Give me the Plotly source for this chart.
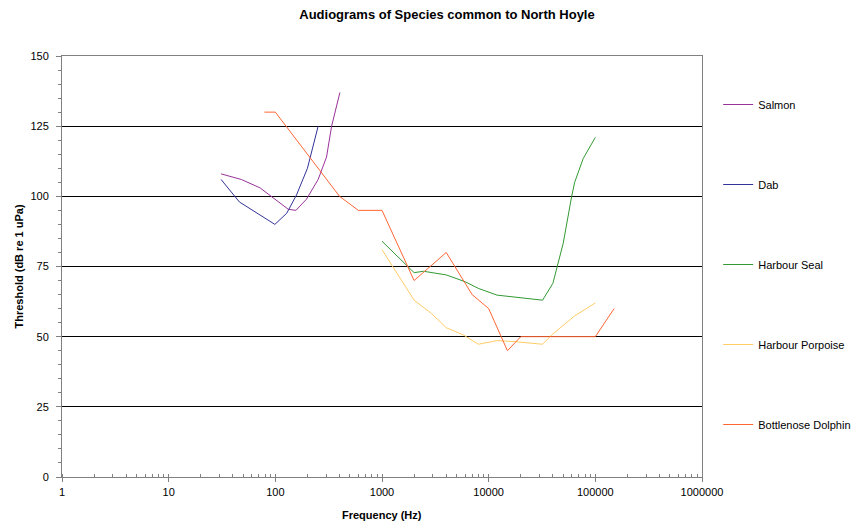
import plotly.graph_objects as go

# ---- data (Hz, dB re 1 uPa) ----
salmon_hz = [31, 48, 72, 92, 132, 156, 196, 252, 302, 337, 403]
salmon_db = [108, 106, 103, 100, 95.4, 95, 99, 106, 114, 125, 137]

dab_hz = [31, 46, 99, 128, 158, 200, 252]
dab_db = [106, 98, 90, 94, 100.5, 110, 125]

seal_hz = [1000, 2000, 2450, 4000, 6000, 8000, 12000, 18000, 32000, 40000,
           50000, 60000, 64000, 77000, 100000]
seal_db = [84, 72.8, 73.3, 72, 69.6, 67.2, 64.8, 64, 63, 69,
           83.3, 100, 105, 113.5, 121]

porpoise_hz = [1000, 2000, 2900, 4000, 5800, 8000, 12000, 18000, 32000, 39000,
               64000, 100000]
porpoise_db = [81, 63, 58.3, 53.2, 50.6, 47.3, 48.6, 48.2, 47.3, 50.6,
               57.4, 62]

dolphin_hz = [79, 100, 400, 600, 1000, 2000, 4000, 7000, 10000, 15000, 20000,
              100000, 150000]
dolphin_db = [130, 130, 100, 95, 95, 70, 80, 65, 60, 45, 50, 50, 60]

series = [
    ("Salmon", salmon_hz, salmon_db, "#993399"),
    ("Dab", dab_hz, dab_db, "#333399"),
    ("Harbour Seal", seal_hz, seal_db, "#339933"),
    ("Harbour Porpoise", porpoise_hz, porpoise_db, "#FFCC66"),
    ("Bottlenose Dolphin", dolphin_hz, dolphin_db, "#FF6633"),
]

FONT = "Arial, Liberation Sans, sans-serif"

fig = go.Figure()
for name, xs, ys, col in series:
    fig.add_trace(go.Scatter(
        x=xs, y=ys, mode="lines", name=name, legendgroup=name,
        line=dict(color=col, width=1),
    ))

# the page body adds an 8px margin, so the figure is 8px smaller
W, H = 856, 521
fig.update_layout(
    width=W, height=H,
    paper_bgcolor="white", plot_bgcolor="white",
    margin=dict(l=54, r=162, t=48, b=52, autoexpand=False),
    font=dict(family=FONT, size=11, color="#000"),
    title=dict(text="<b>Audiograms of Species common to North Hoyle</b>",
               font=dict(family=FONT, size=13, color="#000"),
               x=439 / W, xanchor="center", xref="container",
               y=1 - 2 / H, yanchor="top", yref="container", pad=dict(t=0, b=0)),
    showlegend=True,
    legend=dict(x=1.0253, xanchor="left", y=1 - 34 / 421, yanchor="top",
                font=dict(family=FONT, size=11, color="#000"),
                tracegroupgap=61, bgcolor="rgba(0,0,0,0)",
                itemwidth=30),
    annotations=[
        dict(text="<b>Frequency (Hz)</b>", xref="paper", yref="paper",
             x=0.5, y=0, xanchor="center", yanchor="middle", yshift=-38,
             showarrow=False, font=dict(family=FONT, size=11, color="#000")),
        dict(text="<b>Threshold (dB re 1 uPa)</b>", xref="paper", yref="paper",
             x=0, y=0.5, xanchor="center", yanchor="middle", xshift=-44,
             textangle=-90, showarrow=False,
             font=dict(family=FONT, size=11, color="#000")),
    ],
)

fig.update_xaxes(
    type="log", range=[0, 6], dtick=1, tickformat="d", automargin=False,
    showgrid=False, zeroline=False,
    showline=True, linecolor="#808080", linewidth=1, mirror=True,
    ticks="outside", ticklen=4, tickcolor="#808080", ticklabelstandoff=1,
    minor=dict(dtick="D1", ticks="inside", ticklen=3, tickcolor="#808080", showgrid=False),
    tickfont=dict(family=FONT, size=11, color="#000"),
)
fig.update_yaxes(
    range=[0, 150], dtick=25, automargin=False,
    showgrid=True, gridcolor="#000", gridwidth=1, zeroline=False,
    showline=True, linecolor="#808080", linewidth=1, mirror=True,
    ticks="outside", ticklen=5, tickcolor="#808080", ticklabelstandoff=5,
    minor=dict(dtick=5, ticks="outside", ticklen=3, tickcolor="#808080", showgrid=False),
    tickfont=dict(family=FONT, size=11, color="#000"),
)

fig.write_html("out.html")
